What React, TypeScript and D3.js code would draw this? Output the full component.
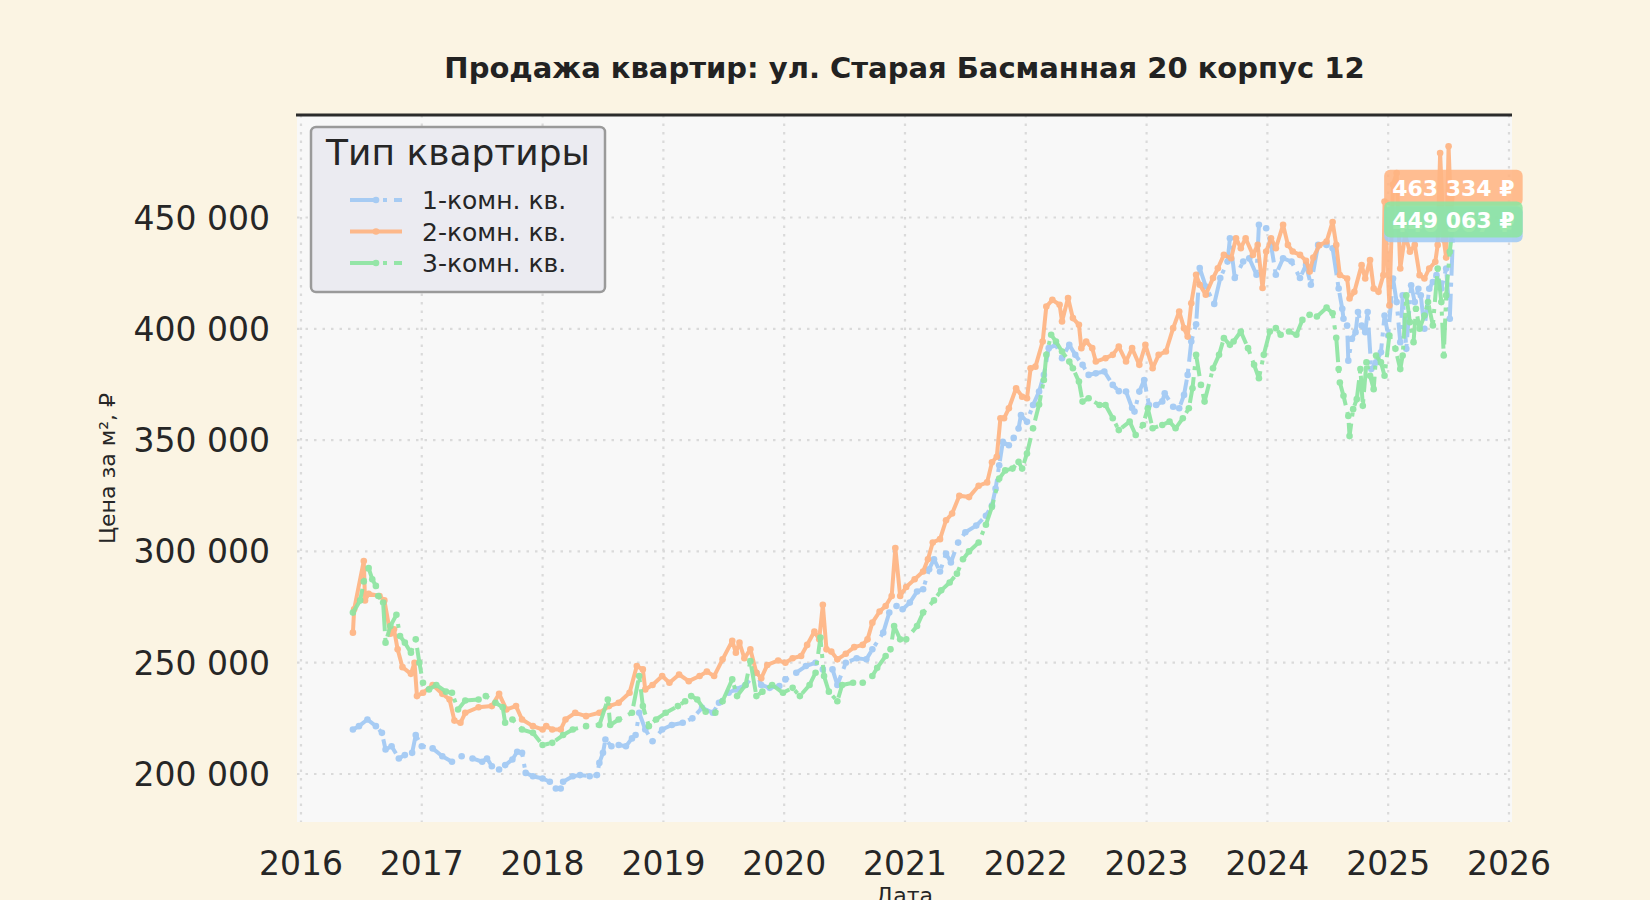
import { useRef, useEffect } from 'react';
import * as d3 from 'd3';

type Pt = [number, number]; // [decimal year, price per m² in thousand ₽]

const oneRoom: Pt[] = [
  [2016.43, 220], [2016.48, 221.5], [2016.55, 224.5], [2016.62, 221.5], [2016.67, 218.5], [2016.70, 211], [2016.75, 212.5],
  [2016.81, 207], [2016.86, 208.5], [2016.92, 209.5], [2016.95, 217.5], [2017.00, 212.5], [2017.09, 211.5], [2017.17, 208],
  [2017.25, 205.5], [2017.33, 208], [2017.42, 207], [2017.50, 205.5], [2017.54, 207], [2017.58, 203.5], [2017.64, 202],
  [2017.69, 204], [2017.75, 206.5], [2017.79, 210], [2017.83, 209.5], [2017.86, 200.5], [2017.92, 199], [2018.00, 198],
  [2018.06, 196.5], [2018.11, 193.5], [2018.15, 193.5], [2018.17, 196.5], [2018.25, 199], [2018.31, 199.5], [2018.39, 199],
  [2018.45, 199.5], [2018.47, 205], [2018.50, 209.5], [2018.52, 215.5], [2018.57, 212.5], [2018.63, 213], [2018.69, 212.5],
  [2018.74, 216], [2018.77, 217.5], [2018.80, 227.5], [2018.85, 220], [2018.91, 214.7], [2018.99, 220], [2019.07, 222],
  [2019.16, 223], [2019.24, 225], [2019.32, 229.7], [2019.41, 227.5], [2019.46, 232], [2019.54, 236.5], [2019.60, 238],
  [2019.68, 240], [2019.77, 245.5], [2019.81, 240], [2019.88, 238.7], [2019.96, 239.5], [2020.01, 242.5], [2020.10, 245.5],
  [2020.18, 248.5], [2020.26, 250], [2020.32, 247], [2020.40, 247], [2020.44, 240], [2020.51, 250], [2020.60, 252],
  [2020.68, 251.5], [2020.73, 256], [2020.82, 263.5], [2020.87, 272.5], [2020.93, 275.5], [2020.98, 274], [2021.04, 277],
  [2021.10, 282], [2021.15, 283], [2021.20, 292], [2021.24, 296.5], [2021.29, 291], [2021.34, 299], [2021.38, 295],
  [2021.44, 304], [2021.50, 308.6], [2021.59, 311.6], [2021.67, 316], [2021.72, 320.6], [2021.75, 328.2], [2021.78, 338.7],
  [2021.81, 349.2], [2021.86, 347.7], [2021.90, 351], [2021.94, 355.2], [2021.96, 361.3], [2022.01, 358.2], [2022.06, 365.8],
  [2022.11, 371.8], [2022.15, 379.3], [2022.19, 391.3], [2022.25, 392.8], [2022.30, 386.8], [2022.36, 392.8], [2022.41, 388.3],
  [2022.47, 383.8], [2022.52, 379.3], [2022.58, 380], [2022.65, 380.8], [2022.72, 374.8], [2022.77, 372], [2022.83, 371.8],
  [2022.88, 364.4], [2022.90, 362.8], [2022.94, 371.8], [2022.98, 377], [2023.02, 365.8], [2023.08, 365.8], [2023.13, 367.4],
  [2023.15, 371], [2023.22, 365], [2023.27, 364.3], [2023.31, 370.3], [2023.34, 379.3], [2023.37, 394.3], [2023.41, 402],
  [2023.44, 427.3], [2023.49, 419], [2023.56, 411.2], [2023.61, 422.8], [2023.67, 430.2], [2023.69, 440.7], [2023.73, 422.8],
  [2023.80, 430.2], [2023.85, 431.7], [2023.91, 424.3], [2023.93, 446.7], [2023.99, 445.2], [2024.03, 437.7], [2024.07, 424.3],
  [2024.13, 431.7], [2024.20, 430.2], [2024.27, 422.8], [2024.32, 428.7], [2024.36, 419.8], [2024.42, 437.7], [2024.49, 437.7],
  [2024.54, 436.2], [2024.59, 418.1], [2024.62, 409], [2024.63, 404.5], [2024.66, 401.5], [2024.67, 385.7], [2024.70, 395.5],
  [2024.73, 398.5], [2024.75, 407.5], [2024.78, 401.5], [2024.81, 398.5], [2024.83, 407.5], [2024.86, 381.9], [2024.90, 384.9],
  [2024.94, 389.5], [2024.97, 406], [2025.00, 397], [2025.04, 422.6], [2025.07, 412], [2025.10, 394], [2025.12, 415],
  [2025.15, 391], [2025.19, 419.6], [2025.22, 412], [2025.25, 418], [2025.27, 415], [2025.30, 400], [2025.34, 418],
  [2025.37, 421], [2025.40, 424.1], [2025.44, 418.1], [2025.48, 427.1], [2025.51, 404.5], [2025.54, 446.967],
];

const twoRoom: Pt[] = [
  [2016.43, 263.5], [2016.44, 274], [2016.52, 295.7], [2016.53, 278], [2016.56, 281], [2016.65, 280], [2016.69, 278],
  [2016.74, 263], [2016.77, 265], [2016.80, 256], [2016.84, 248], [2016.91, 245], [2016.94, 250], [2016.96, 235],
  [2017.01, 236.5], [2017.09, 240], [2017.17, 236], [2017.23, 233.5], [2017.27, 224], [2017.32, 223], [2017.36, 227.5],
  [2017.47, 230], [2017.58, 230.5], [2017.64, 236], [2017.70, 229], [2017.78, 230.5], [2017.83, 224.5], [2017.92, 221.5],
  [2018.00, 220], [2018.03, 221.5], [2018.08, 220], [2018.15, 220], [2018.19, 224.5], [2018.27, 227.5], [2018.36, 226],
  [2018.47, 227.5], [2018.55, 230.5], [2018.63, 232], [2018.72, 236.5], [2018.78, 248.5], [2018.83, 247], [2018.85, 238],
  [2018.91, 240], [2018.99, 244], [2019.05, 241], [2019.13, 244.7], [2019.21, 241.7], [2019.30, 244], [2019.36, 246],
  [2019.42, 244], [2019.49, 251.5], [2019.57, 259.8], [2019.60, 254.5], [2019.63, 259], [2019.67, 252], [2019.72, 256],
  [2019.77, 245.5], [2019.81, 243], [2019.86, 249], [2019.95, 251], [2020.01, 250], [2020.07, 252], [2020.14, 253],
  [2020.19, 258], [2020.25, 264], [2020.29, 260.5], [2020.32, 276], [2020.35, 256], [2020.39, 255], [2020.44, 251.5],
  [2020.51, 254], [2020.58, 257], [2020.65, 258], [2020.69, 260.5], [2020.73, 268], [2020.79, 273], [2020.84, 275.5],
  [2020.89, 280], [2020.92, 301.5], [2020.96, 280], [2021.01, 284], [2021.08, 287.5], [2021.15, 291], [2021.19, 296.5],
  [2021.23, 304], [2021.29, 305.5], [2021.34, 314], [2021.39, 317], [2021.45, 325], [2021.53, 324.4], [2021.61, 329.5],
  [2021.68, 331], [2021.72, 340], [2021.76, 342.5], [2021.79, 359.8], [2021.82, 359.8], [2021.86, 364.3], [2021.92, 373.3],
  [2021.97, 369.5], [2022.01, 368.8], [2022.04, 382.3], [2022.08, 383], [2022.14, 394.3], [2022.17, 410], [2022.22, 413],
  [2022.28, 410.8], [2022.30, 403.3], [2022.35, 413.8], [2022.39, 404.8], [2022.44, 401.8], [2022.46, 391.3], [2022.50, 394.3],
  [2022.55, 391.3], [2022.58, 385.3], [2022.66, 386.8], [2022.72, 388.3], [2022.77, 392], [2022.83, 385.3], [2022.88, 391.3],
  [2022.94, 383.8], [2022.99, 392.8], [2023.05, 382.3], [2023.10, 388.3], [2023.16, 389.8], [2023.22, 400.3], [2023.27, 407.8],
  [2023.31, 400.3], [2023.34, 396.5], [2023.37, 411.5], [2023.41, 424.3], [2023.44, 419.8], [2023.49, 415.3], [2023.55, 422.8],
  [2023.59, 427.2], [2023.64, 433.2], [2023.70, 431.7], [2023.74, 440.7], [2023.78, 436.2], [2023.82, 440.7], [2023.88, 433.2],
  [2023.92, 437.7], [2023.96, 418.3], [2023.99, 434.7], [2024.03, 440.7], [2024.07, 436.2], [2024.13, 446.7], [2024.17, 437.7],
  [2024.21, 434.7], [2024.27, 433.2], [2024.32, 430.5], [2024.35, 425.7], [2024.38, 432], [2024.43, 437.5], [2024.49, 439.2],
  [2024.54, 448], [2024.57, 437.7], [2024.60, 424.2], [2024.66, 422.6], [2024.68, 413.6], [2024.72, 416.6], [2024.78, 428.6],
  [2024.81, 422.6], [2024.85, 430.9], [2024.88, 418.1], [2024.92, 416.6], [2024.96, 424.1], [2024.97, 457.2], [2025.01, 410.5],
  [2025.04, 464.8], [2025.07, 470], [2025.10, 427.1], [2025.14, 442.2], [2025.18, 434.6], [2025.22, 437.7], [2025.26, 424.1],
  [2025.30, 422.6], [2025.34, 427.1], [2025.39, 430.1], [2025.41, 437.7], [2025.43, 479], [2025.46, 440], [2025.48, 432],
  [2025.50, 482], [2025.52, 452], [2025.54, 463.334],
];

const threeRoom: Pt[] = [
  [2016.43, 272.5], [2016.49, 278], [2016.52, 286.5], [2016.56, 292.5], [2016.59, 287.5], [2016.62, 284.5], [2016.64, 280],
  [2016.68, 277], [2016.70, 259], [2016.74, 266.5], [2016.79, 271.5], [2016.82, 262], [2016.86, 259], [2016.91, 254.5],
  [2016.95, 260.5], [2016.98, 250], [2017.01, 241], [2017.06, 238], [2017.12, 240], [2017.20, 237], [2017.25, 236.5],
  [2017.30, 229], [2017.36, 233], [2017.47, 233.5], [2017.53, 235], [2017.61, 232], [2017.67, 230], [2017.69, 223],
  [2017.75, 224.5], [2017.83, 220], [2017.92, 218.5], [2018.00, 213], [2018.08, 214], [2018.17, 217.5], [2018.25, 220],
  [2018.36, 221.5], [2018.47, 222], [2018.54, 233.5], [2018.56, 222], [2018.63, 224.5], [2018.74, 227.5], [2018.80, 244],
  [2018.83, 230.5], [2018.88, 221.5], [2018.94, 224.5], [2019.02, 227.5], [2019.12, 230.5], [2019.18, 232.7], [2019.23, 235],
  [2019.28, 233.5], [2019.35, 228], [2019.43, 227.5], [2019.49, 232.7], [2019.57, 242.5], [2019.61, 235], [2019.68, 240],
  [2019.72, 250.7], [2019.77, 235], [2019.82, 237], [2019.90, 240], [2019.99, 236.5], [2020.07, 238.7], [2020.13, 235],
  [2020.21, 240], [2020.26, 245.5], [2020.30, 261.3], [2020.33, 244], [2020.37, 237], [2020.44, 232.7], [2020.48, 240],
  [2020.57, 241], [2020.65, 241], [2020.73, 244], [2020.77, 247.7], [2020.84, 253], [2020.88, 256], [2020.91, 266.5],
  [2020.96, 260.5], [2021.01, 260.5], [2021.10, 266.5], [2021.15, 272.5], [2021.24, 278], [2021.30, 282.5], [2021.37, 286],
  [2021.43, 290], [2021.48, 296.5], [2021.53, 300], [2021.61, 304], [2021.67, 312], [2021.72, 320], [2021.78, 332.7],
  [2021.83, 336.4], [2021.89, 337.2], [2021.94, 340.2], [2021.97, 337.2], [2022.01, 344], [2022.06, 355.3], [2022.11, 366],
  [2022.15, 377], [2022.17, 388.3], [2022.21, 397.3], [2022.25, 394.3], [2022.30, 389.8], [2022.36, 385.3], [2022.39, 382.3],
  [2022.44, 376.3], [2022.47, 367.3], [2022.52, 368.8], [2022.61, 365.8], [2022.66, 365.8], [2022.72, 359.8], [2022.77, 354.5],
  [2022.86, 358.3], [2022.91, 352.3], [2022.97, 356.8], [2023.01, 364.3], [2023.05, 355.3], [2023.13, 356.8], [2023.19, 358.3],
  [2023.24, 355.3], [2023.30, 359.8], [2023.35, 364.3], [2023.38, 373.3], [2023.41, 388.3], [2023.45, 374.8], [2023.48, 367.3],
  [2023.55, 382.3], [2023.60, 388.3], [2023.64, 395.8], [2023.69, 392.8], [2023.72, 394.3], [2023.78, 398.8], [2023.84, 391.3],
  [2023.89, 383.8], [2023.93, 377.8], [2023.97, 388.3], [2024.02, 398.8], [2024.07, 400.3], [2024.11, 397.3], [2024.18, 398.8],
  [2024.24, 397.3], [2024.29, 404], [2024.35, 406.3], [2024.41, 405.5], [2024.49, 409.5], [2024.54, 407], [2024.57, 396],
  [2024.59, 381.9], [2024.60, 375.9], [2024.63, 369.9], [2024.67, 360.8], [2024.68, 351.8], [2024.71, 363.9], [2024.74, 368.4],
  [2024.77, 381.9], [2024.79, 365.4], [2024.82, 384.9], [2024.85, 378.9], [2024.88, 372.9], [2024.90, 388], [2024.94, 384.9],
  [2024.97, 378.9], [2025.01, 397], [2025.06, 391], [2025.10, 381.9], [2025.12, 388], [2025.15, 415], [2025.18, 403],
  [2025.21, 394], [2025.23, 409], [2025.26, 400], [2025.30, 406], [2025.33, 412], [2025.37, 401.5], [2025.41, 427.1],
  [2025.44, 412], [2025.46, 388], [2025.48, 415], [2025.51, 434.6], [2025.54, 449.063],
];

const seriesNames = ['1-комн. кв.', '2-комн. кв.', '3-комн. кв.'];
const seriesColors = ['#a1c9f4', '#ffb482', '#8de5a1'];
const yearTicks = [2016, 2017, 2018, 2019, 2020, 2021, 2022, 2023, 2024, 2025, 2026];
const priceTicks = [200, 250, 300, 350, 400, 450];

const W = 1650;
const H = 900;
const FONT = '"DejaVu Sans", sans-serif';

const fmtRub = (v: number) => Math.round(v).toString().replace(/\B(?=(\d{3})+(?!\d))/g, ' ');

export default function App() {
  const svgRef = useRef<SVGSVGElement>(null);

  useEffect(() => {
    if (!svgRef.current) return;
    const svg = d3.select(svgRef.current);
    svg.selectAll('*').remove();

    const plot = { left: 297, right: 1512, top: 115, bottom: 822 };
    const x = d3.scaleLinear().domain([2015.967, 2026.025]).range([plot.left, plot.right]);
    const y = d3.scaleLinear().domain([178.44, 496.05]).range([plot.bottom, plot.top]);

    svg.append('rect').attr('width', W).attr('height', H).attr('fill', '#fbf4e3');
    svg.append('rect')
      .attr('x', plot.left).attr('y', plot.top)
      .attr('width', plot.right - plot.left).attr('height', plot.bottom - plot.top)
      .attr('fill', '#f8f8f8');

    // Gridlines
    const grid = svg.append('g').attr('stroke', '#dadada').attr('stroke-width', 2.2).attr('stroke-dasharray', '2.5,6');
    grid.selectAll('line.gx').data(yearTicks).join('line')
      .attr('x1', (d) => x(d)).attr('x2', (d) => x(d))
      .attr('y1', plot.top).attr('y2', plot.bottom);
    grid.selectAll('line.gy').data(priceTicks).join('line')
      .attr('x1', plot.left).attr('x2', plot.right)
      .attr('y1', (d) => y(d)).attr('y2', (d) => y(d));

    // Top spine
    svg.append('line')
      .attr('x1', plot.left - 1).attr('x2', plot.right).attr('y1', plot.top).attr('y2', plot.top)
      .attr('stroke', '#2b2b2b').attr('stroke-width', 3);

    // Lines
    const series = [oneRoom, twoRoom, threeRoom];
    const dashes = ['26,7,4,7', null, '26,7,4,7'];
    const line = d3.line<Pt>().x((d) => x(d[0])).y((d) => y(d[1]));
    const lines = svg.append('g');
    series.forEach((s, i) => {
      const g = lines.append('g').attr('opacity', 0.92);
      g.append('path')
        .attr('d', line(s))
        .attr('fill', 'none')
        .attr('stroke', seriesColors[i])
        .attr('stroke-width', 4)
        .attr('stroke-linejoin', 'round')
        .attr('stroke-dasharray', dashes[i]);
      g.selectAll('circle').data(s).join('circle')
        .attr('cx', (d) => x(d[0])).attr('cy', (d) => y(d[1]))
        .attr('r', 3.3).attr('fill', seriesColors[i]);
    });

    // Last value labels
    const labels = svg.append('g').attr('font-family', FONT);
    series.forEach((s, i) => {
      const last = s[s.length - 1];
      const cx = x(last[0]);
      const cy = y(last[1]);
      const g = labels.append('g');
      const rect = g.append('rect');
      const t = g.append('text')
        .attr('x', cx).attr('y', cy + 8)
        .attr('text-anchor', 'middle')
        .attr('font-size', 22).attr('font-weight', 'bold')
        .attr('fill', '#ffffff')
        .text(fmtRub(last[1] * 1000) + ' ₽');
      const tw = (t.node() as SVGTextElement).getComputedTextLength();
      rect.attr('x', cx - tw / 2 - 8).attr('y', cy - 18)
        .attr('width', tw + 16).attr('height', 36)
        .attr('rx', 6)
        .attr('fill', seriesColors[i]).attr('opacity', 0.88);
    });

    // Axes labels
    const ticks = svg.append('g').attr('font-family', FONT).attr('fill', '#262626').attr('font-size', 33);
    ticks.selectAll('text.yt').data(priceTicks).join('text')
      .attr('x', 270).attr('y', (d) => y(d) + 12)
      .attr('text-anchor', 'end')
      .text((d) => fmtRub(d * 1000));
    ticks.selectAll('text.xt').data(yearTicks).join('text')
      .attr('x', (d) => x(d)).attr('y', 875)
      .attr('text-anchor', 'middle')
      .text((d) => String(d));

    svg.append('text')
      .attr('transform', 'translate(115,' + (plot.top + plot.bottom) / 2 + ') rotate(-90)')
      .attr('text-anchor', 'middle')
      .attr('font-family', FONT).attr('font-size', 22).attr('fill', '#262626')
      .text('Цена за м², ₽');
    svg.append('text')
      .attr('x', (plot.left + plot.right) / 2).attr('y', 903)
      .attr('text-anchor', 'middle')
      .attr('font-family', FONT).attr('font-size', 22).attr('fill', '#262626')
      .text('Дата');

    // Title
    svg.append('text')
      .attr('x', (plot.left + plot.right) / 2).attr('y', 78)
      .attr('text-anchor', 'middle')
      .attr('font-family', FONT).attr('font-size', 29).attr('font-weight', 'bold').attr('fill', '#222')
      .text('Продажа квартир: ул. Старая Басманная 20 корпус 12');

    // Legend
    const lg = svg.append('g').attr('font-family', FONT);
    lg.append('rect')
      .attr('x', 311).attr('y', 127).attr('width', 294).attr('height', 165)
      .attr('rx', 5)
      .attr('fill', '#ebebf1').attr('stroke', '#9a9a9a').attr('stroke-width', 2.5);
    lg.append('text')
      .attr('x', 458).attr('y', 165)
      .attr('text-anchor', 'middle')
      .attr('font-size', 36).attr('fill', '#262626')
      .text('Тип квартиры');
    seriesNames.forEach((name, i) => {
      const cy = 200 + i * 31.5;
      const item = lg.append('g').attr('opacity', 0.92);
      item.append('line')
        .attr('x1', 350).attr('x2', 402).attr('y1', cy).attr('y2', cy)
        .attr('stroke', seriesColors[i]).attr('stroke-width', 4)
        .attr('stroke-dasharray', dashes[i]);
      item.append('circle').attr('cx', 376).attr('cy', cy).attr('r', 3.3).attr('fill', seriesColors[i]);
      lg.append('text')
        .attr('x', 422).attr('y', cy + 9)
        .attr('font-size', 25).attr('fill', '#262626')
        .text(name);
    });
  }, []);

  return (
    <div style={{ position: 'absolute', left: 0, top: 0, width: W, height: H, overflow: 'hidden' }}>
      <svg ref={svgRef} width={W} height={H} viewBox={'0 0 ' + W + ' ' + H} />
    </div>
  );
}
